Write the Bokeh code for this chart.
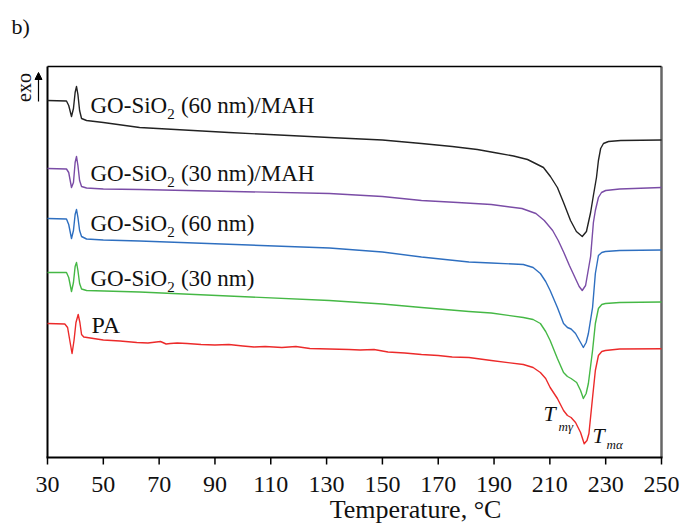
from bokeh.plotting import figure
from bokeh.models import Range1d, Arrow, NormalHead, ColumnDataSource
from bokeh.core.properties import value
from bokeh.embed import file_html
from bokeh.resources import INLINE
import math

# ---------------- data ----------------
x_ticks = [30, 50, 70, 90, 110, 130, 150, 170, 190, 210, 230, 250]
x_tick_labels = [str(t) for t in x_ticks]

T_mah60 = [30, 36.8, 37.6, 38.6, 39.3, 39.9, 40.4, 40.9, 41.5, 42.2, 44, 50, 63, 95, 131, 150, 164, 175, 184, 191, 197, 202,
           207.7, 210.2, 212.7, 214.9, 217.4, 219.5, 221.6, 223.1, 224.6, 225.6, 226.7, 227.4, 228.2, 229.2, 231, 235.4, 250]
hf_mah60 = [35.7, 35.65, 35.2, 34.1, 34.9, 36.5, 37.1, 36.3, 34.7, 33.9, 33.7, 33.5, 33.0, 32.5, 32.0, 31.75, 31.4, 31.1, 30.8, 30.45, 30.15, 29.8,
            29.0, 28.1, 27.0, 25.5, 23.7, 22.6, 22.1, 22.6, 24.5, 26.2, 28.0, 29.7, 30.9, 31.4, 31.6, 31.7, 31.75]

T_mah30 = [30, 36.8, 37.6, 38.6, 39.3, 39.9, 40.4, 40.9, 41.5, 42.2, 44, 50, 63, 131, 150, 164, 177, 189, 200, 205, 208, 211,
           213, 215, 217, 219, 220.5, 221.6, 222.8, 224.6, 225.6, 226.3, 227.4, 228.5, 230, 235, 250]
hf_mah30 = [28.9, 28.85, 28.5, 27.0, 27.5, 29.5, 30.1, 29.2, 27.7, 27.1, 26.95, 26.85, 26.8, 26.4, 26.1, 25.7, 25.5, 25.3, 24.9, 24.4, 23.7, 22.7,
            21.7, 20.5, 19.2, 18.0, 17.1, 16.7, 17.2, 20.1, 23.5, 24.7, 26.0, 26.5, 26.7, 26.85, 27.0]

T_go60 = [30, 36.8, 37.6, 38.6, 39.3, 39.9, 40.4, 40.9, 41.5, 42.2, 44, 50, 63, 131, 150, 164, 181, 189, 200.5, 204, 206.6,
          208.5, 210.1, 212.7, 214.9, 216.3, 217.6, 219.2, 220.8, 222, 223, 223.8, 225.3, 226.3, 227.4, 228.6, 229.9, 235, 250]
hf_go60 = [23.9, 23.85, 23.3, 21.9, 22.7, 24.3, 24.8, 24.0, 22.7, 22.1, 21.85, 21.75, 21.65, 20.95, 20.55, 20.05, 19.55, 19.45, 19.3, 19.0, 18.4,
           17.6, 16.7, 15.0, 13.4, 13.0, 12.85, 12.4, 11.6, 11.0, 11.5, 12.4, 15.0, 18.4, 20.2, 20.5, 20.6, 20.7, 20.75]

T_go30 = [30, 36.8, 37.6, 38.6, 39.3, 39.9, 40.4, 40.9, 41.5, 42.2, 44, 63, 131, 150, 164, 181, 189, 200.5, 204, 206.6, 208.5,
          210.1, 212.7, 214.9, 216.3, 217.6, 219.6, 221, 222, 223, 223.8, 225.3, 226.3, 227.4, 228.6, 229.9, 235, 250]
hf_go30 = [18.5, 18.5, 18.0, 16.6, 17.5, 19.1, 19.5, 18.7, 17.4, 16.85, 16.7, 16.55, 15.7, 15.35, 15.0, 14.6, 14.45, 14.0, 13.8, 13.4, 12.6,
           11.7, 9.9, 8.5, 8.1, 7.9, 7.5, 6.7, 5.9, 6.4, 7.4, 10.7, 13.4, 14.9, 15.3, 15.4, 15.5, 15.55]

T_pa = [30, 36.2, 37.2, 38.3, 38.8, 39.5, 40.2, 41.0, 41.6, 42.2, 43.0, 50, 56, 62, 66, 70.5, 72.5, 74, 76.5, 80,
        85, 90, 95, 100, 104, 108, 114, 119, 124, 131, 138, 142, 147, 152, 158, 164, 170, 175, 181, 189,
        200.5, 204, 206.6, 208.5, 210.1, 212.7, 214.9, 216.3, 217.6, 219.2, 221, 222.3, 223.3, 224, 225.3, 226.3, 227.4, 228.6, 229.9, 235, 250]
hf_pa = [13.4, 13.35, 13.0, 11.2, 10.4, 11.7, 13.5, 14.3, 13.5, 12.3, 12.05, 11.75, 11.65, 11.5, 11.45, 11.6, 11.35, 11.4, 11.45, 11.4,
         11.3, 11.25, 11.3, 11.15, 11.05, 11.1, 11.0, 11.1, 10.9, 10.85, 10.8, 10.75, 10.8, 10.55, 10.45, 10.3, 10.2, 10.05, 10.0, 9.7,
         9.3, 9.0, 8.5, 7.9, 7.0, 5.9, 4.7, 4.2, 4.0, 3.5, 2.5, 1.37, 1.7, 2.4, 6.0, 8.7, 10.2, 10.6, 10.7, 10.85, 10.87]

series = [
    (T_mah60, hf_mah60, "#222222", "(60 nm)/MAH", 104.5),
    (T_mah30, hf_mah30, "#7a4ca6", "(30 nm)/MAH", 172.5),
    (T_go60, hf_go60, "#2e6fc0", "(60 nm)", 222.5),
    (T_go30, hf_go30, "#45b845", "(30 nm)", 277.5),
    (T_pa, hf_pa, "#ec2a2a", None, 324.5),
]

# ---------------- layout ----------------
W, H = 683, 523
L, R, TOP, B = 47, 661, 66, 457          # plot box in pixels
X0, X1 = 30, 250
Y0, Y1 = 0.0, 39.1
FONT = "Liberation Serif"
INK = "#111111"


def X(px):
    return X0 + (px - L) * (X1 - X0) / (R - L)


def Y(py):
    return Y0 + (B - py) * (Y1 - Y0) / (B - TOP)


p = figure(width=W, height=H, x_range=Range1d(X(0), X(W)), y_range=Range1d(Y(H), Y(0)),
           output_backend="svg", toolbar_location=None,
           x_axis_location=None, y_axis_location=None,
           min_border=0, min_border_left=0, min_border_right=0, min_border_top=0, min_border_bottom=0)
p.background_fill_color = "white"
p.border_fill_color = "white"
p.outline_line_color = None
p.xgrid.visible = False
p.ygrid.visible = False

# plot box
p.segment(x0=[X1], y0=[Y0], x1=[X1], y1=[Y1], line_color="#666666", line_width=2.5)
p.segment(x0=[X0], y0=[Y1], x1=[X1], y1=[Y1], line_color="black", line_width=1.3)
p.segment(x0=[X0], y0=[Y0], x1=[X0], y1=[Y1], line_color="black", line_width=2.0)

# curves
for T, hf, col, _, _ in series:
    p.line(T, hf, line_color=col, line_width=1.4, line_join="round")

# bottom axis
p.segment(x0=[X(L - 1)], y0=[Y0], x1=[X(R + 1)], y1=[Y0], line_color="black", line_width=2.2)
tick_src = ColumnDataSource(dict(x=x_ticks, y0=[Y0] * len(x_ticks), y1=[Y(B + 7)] * len(x_ticks),
                                 ly=[Y(484)] * len(x_ticks), lab=x_tick_labels))
p.segment(x0="x", y0="y0", x1="x", y1="y1", source=tick_src, line_color="black", line_width=1.5)
p.text(x="x", y="ly", text="lab", source=tick_src, text_font=value(FONT), text_font_size="24px",
       text_color=INK, text_align="center", text_baseline="middle")


def txt(px, py, s, size="23px", italic=False, align="left", angle=0.0):
    p.text(x=[X(px)], y=[Y(py)], text=[s], text_font=value(FONT), text_font_size=size,
           text_font_style="italic" if italic else "normal", text_color=INK,
           text_align=align, text_baseline="middle", angle=angle)


fs = 23
for T, hf, col, suffix, mid in series:
    if suffix is None:
        txt(91, mid, "PA", size="24px")
    else:
        txt(90, mid, "GO-SiO")
        w1 = 3.333 * fs
        txt(90 + w1, mid + 9, "2", size="15px")
        txt(90 + w1 + 8 + 0.25 * fs, mid, suffix)

# T_m labels
txt(543, 413, "T", size="22px", italic=True)
txt(558, 426, "mγ", size="13px", italic=True)
txt(592, 434.5, "T", size="22px", italic=True)
txt(606, 444, "mα", size="13px", italic=True)

# axis title, panel letter, exo
txt(415, 509, "Temperature, °C", size="26px", align="center")
txt(11, 25.5, "b)", size="22px")
txt(23, 87, "exo", size="20px", align="center", angle=math.pi / 2)

p.add_layout(Arrow(x_start=X(38), y_start=Y(101), x_end=X(38), y_end=Y(72),
                   line_color="black", line_width=1.2,
                   end=NormalHead(size=7, fill_color="black", line_color="black")))

open("out.html", "w").write(file_html(p, INLINE))
